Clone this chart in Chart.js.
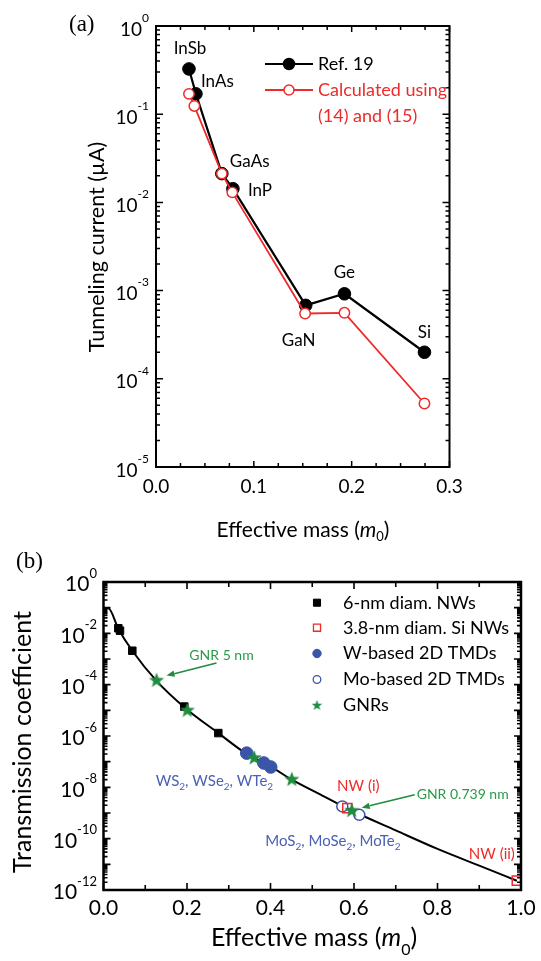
<!DOCTYPE html>
<html><head><meta charset="utf-8">
<script src="https://cdn.jsdelivr.net/npm/chart.js@4.4.0/dist/chart.umd.min.js"></script>
<style>
html,body{margin:0;padding:0;background:#fff;}
#wrap{position:relative;width:541px;height:961px;overflow:hidden;background:#fff;}
canvas{position:absolute;left:0;}
#ca{top:0;}
#cb{top:545px;}
</style></head><body>
<div id="wrap"><canvas id="ca" width="541" height="545"></canvas><canvas id="cb" width="541" height="416"></canvas></div>
<script>
// ---------- Panel (a) data ----------
const materialsA = ['InSb','InAs','GaAs','InP','GaN','Ge','Si'];
const massRefA = [0.0337,0.0408,0.0673,0.0786,0.153,0.1926,0.2744];
const currentRefA = [0.326,0.17,0.0212,0.0143,6.8e-4,9.2e-4,2.0e-4];
const massCalcA = [0.0337,0.0392,0.0673,0.078,0.1524,0.1926,0.2744];
const currentCalcA = [0.17,0.124,0.0212,0.013,5.5e-4,5.6e-4,5.25e-5];
const xTicksA = [0,0.1,0.2,0.3];
const yDecadesA = [0,-1,-2,-3,-4,-5];

// ---------- Panel (b) data ----------
const curveMassB = [0.006,0.0115,0.036,0.069,0.127,0.194,0.275,0.343,0.40,0.451,0.52,0.594,0.70,0.80,0.90,0.99];
const curveTransB = [0.094,0.094,0.0145,2.1e-3,1.4e-4,1.3e-5,1.3e-6,2.0e-7,6.5e-8,2.0e-8,5.2e-9,1.25e-9,2.1e-10,4.0e-11,8.9e-12,2.3e-12];
const nw6MassB = [0.0355,0.0395,0.069,0.1935,0.275];
const nw6TransB = [0.0158,0.0127,2.1e-3,1.4e-5,1.3e-6];
const nwSiMassB = [0.584,0.990];
const nwSiTransB = [1.56e-9,2.3e-12];
const wTmdMassB = [0.343,0.384,0.4005];
const wTmdTransB = [2.15e-7,8.9e-8,6.2e-8];
const moTmdMassB = [0.572,0.6127];
const moTmdTransB = [1.8e-9,8.5e-10];
const gnrMassB = [0.127,0.2007,0.361,0.451,0.5945];
const gnrTransB = [1.44e-4,9.8e-6,1.38e-7,2.0e-8,1.23e-9];
const xTicksB = [0,0.2,0.4,0.6,0.8,1.0];
const yDecadesB = [0,-2,-4,-6,-8,-10,-12];

const RED = '#ee2a2a', BLUE = '#3a55a8', GREEN = '#1f8c3f', BLUET = '#4a60b3', GREENT = '#2a9a48';
const FAM = 'Lato, "Open Sans", sans-serif';
const F = (s, st) => (st || '') + ' ' + s + 'px ' + FAM;

function pts(xs, ys) { return xs.map((v, i) => ({ x: v, y: ys[i] })); }

function mixed(ctx, parts, x, y, align, color) {
  let w = 0;
  parts.forEach(p => { ctx.font = p[1]; p.w = ctx.measureText(p[0]).width; w += p.w; });
  let cx = align === 'center' ? x - w / 2 : align === 'right' ? x - w : x;
  ctx.textBaseline = 'middle'; ctx.textAlign = 'left';
  if (color) ctx.fillStyle = color;
  parts.forEach(p => { ctx.font = p[1]; ctx.fillText(p[0], cx, y + (p[2] || 0)); cx += p.w; });
}

function starCanvas(r, color) {
  const s = Math.ceil(r * 2 + 2);
  const c = document.createElement('canvas'); c.width = s; c.height = s;
  const g = c.getContext('2d'); g.fillStyle = color; g.beginPath();
  for (let i = 0; i < 10; i++) {
    const a = -Math.PI / 2 + i * Math.PI / 5, rr = i % 2 ? r * 0.42 : r;
    g.lineTo(s / 2 + rr * Math.cos(a), s / 2 + rr * Math.sin(a));
  }
  g.closePath(); g.fill();
  return c;
}

function frame(chart, o) {
  const { ctx, chartArea: a, scales: { x, y } } = chart;
  ctx.save();
  ctx.strokeStyle = '#000'; ctx.lineWidth = o.lw; ctx.lineCap = 'butt';
  ctx.strokeRect(a.left, a.top, a.right - a.left, a.bottom - a.top);
  ctx.lineWidth = o.tw;
  ctx.beginPath();
  for (let v = x.min; v <= x.max + 1e-9; v += o.xStep) {
    const px = x.getPixelForValue(v);
    const major = Math.abs(v / o.xMajor - Math.round(v / o.xMajor)) < 1e-6;
    const L = major ? o.xMajLen : o.xMinLen;
    ctx.moveTo(px, a.bottom); ctx.lineTo(px, a.bottom - L);
    ctx.moveTo(px, a.top); ctx.lineTo(px, a.top + L);
  }
  const e0 = Math.round(Math.log10(y.min)), e1 = Math.round(Math.log10(y.max));
  for (let e = e0; e <= e1; e++) {
    for (let m = 1; m <= 9; m++) {
      if (e === e1 && m > 1) break;
      const py = y.getPixelForValue(m * Math.pow(10, e));
      const L = m === 1 ? o.yMajLen : o.yMinLen;
      ctx.moveTo(a.left, py); ctx.lineTo(a.left + L, py);
      ctx.moveTo(a.right, py); ctx.lineTo(a.right - L, py);
    }
  }
  ctx.stroke();
  ctx.restore();
}

function arrow(ctx, x1, y1, x2, y2, color) {
  ctx.save(); ctx.strokeStyle = color; ctx.fillStyle = color; ctx.lineWidth = 1.5;
  const ang = Math.atan2(y2 - y1, x2 - x1), h = 8, hw = 3.2;
  const bx = x2 - h * Math.cos(ang), by = y2 - h * Math.sin(ang);
  ctx.beginPath(); ctx.moveTo(x1, y1); ctx.lineTo(bx, by); ctx.stroke();
  ctx.beginPath(); ctx.moveTo(x2, y2);
  ctx.lineTo(bx + hw * Math.sin(ang), by - hw * Math.cos(ang));
  ctx.lineTo(bx - hw * Math.sin(ang), by + hw * Math.cos(ang));
  ctx.closePath(); ctx.fill(); ctx.restore();
}

// ---------- Panel (a) ----------
const panelA = {
  id: 'panelA',
  afterDraw(chart) {
    const { ctx, chartArea: a, scales: { x, y } } = chart;
    frame(chart, { lw: 2, tw: 1.5, xStep: 0.025, xMajor: 0.1, xMajLen: 6, xMinLen: 4, yMajLen: 7, yMinLen: 4 });
    ctx.save();
    ctx.fillStyle = '#000';
    yDecadesA.forEach(e => {
      const py = y.getPixelForValue(Math.pow(10, e));
      mixed(ctx, [['10', F(19)], [String(e), F(12), -11.5]], 149, py + 3.5, 'right');
    });
    ctx.textAlign = 'center'; ctx.textBaseline = 'middle'; ctx.font = F(19);
    xTicksA.forEach(v => ctx.fillText(v.toFixed(1), x.getPixelForValue(v), a.bottom + 20));
    // axis titles
    mixed(ctx, [['Effective mass (', F(21)], ['m', F(21, 'italic')], ['0', F(13), 7], [')', F(21)]], 303, 530, 'center');
    ctx.save(); ctx.translate(97, 247); ctx.rotate(-Math.PI / 2);
    ctx.textAlign = 'center'; ctx.textBaseline = 'middle'; ctx.font = F(21.5);
    ctx.fillText('Tunneling current (\u00B5A)', 0, 0); ctx.restore();
    // panel label
    ctx.font = '23px "Liberation Serif", "DejaVu Serif", serif'; ctx.textAlign = 'left'; ctx.textBaseline = 'middle';
    ctx.fillText('(a)', 69, 25);
    // material labels anchored on Ref. 19 points
    const off = { InSb: [1, -20, 'center'], InAs: [5, -12, 'left'], GaAs: [8, -12, 'left'], InP: [15, 2, 'left'], GaN: [-7, 35, 'center'], Ge: [0, -21, 'center'], Si: [0, -20, 'center'] };
    ctx.font = F(17); ctx.textBaseline = 'middle';
    materialsA.forEach((m, i) => {
      const px = x.getPixelForValue(massRefA[i]), py = y.getPixelForValue(currentRefA[i]);
      const o = off[m]; ctx.textAlign = o[2]; ctx.fillText(m, px + o[0], py + o[1]);
    });
    // legend
    const lg = [['#000', '#000', 'Ref. 19', 64], [RED, '#fff', 'Calculated using', 90]];
    lg.forEach(l => {
      ctx.strokeStyle = l[0]; ctx.lineWidth = 2;
      ctx.beginPath(); ctx.moveTo(265, l[3]); ctx.lineTo(313, l[3]); ctx.stroke();
      ctx.beginPath(); ctx.arc(289, l[3], l[1] === '#fff' ? 5 : 5.5, 0, 2 * Math.PI);
      ctx.fillStyle = l[1]; ctx.fill(); ctx.lineWidth = 1.5; ctx.stroke();
      ctx.fillStyle = l[0]; ctx.font = F(18); ctx.textAlign = 'left'; ctx.fillText(l[2], 318, l[3]);
    });
    ctx.fillStyle = RED; ctx.fillText('(14) and (15)', 318, 116.5);
    ctx.restore();
  }
};

new Chart(document.getElementById('ca').getContext('2d'), {
  type: 'scatter',
  data: {
    datasets: [
      { label: 'Calculated using (14) and (15)', data: pts(massCalcA, currentCalcA), showLine: true, borderColor: RED, borderWidth: 1.8,
        pointRadius: 5.2, pointBorderWidth: 1.5, pointBackgroundColor: '#fff', pointBorderColor: RED, order: 1 },
      { label: 'Ref. 19', data: pts(massRefA, currentRefA), showLine: true, borderColor: '#000', borderWidth: 2.2,
        pointRadius: 6.3, pointBorderWidth: 1, pointBackgroundColor: '#000', pointBorderColor: '#000', order: 2 }
    ]
  },
  options: {
    responsive: false, animation: false, devicePixelRatio: 1,
    layout: { padding: { left: 156, top: 26, right: 91.5, bottom: 78 } },
    scales: { x: { type: 'linear', min: 0, max: 0.3, display: false }, y: { type: 'logarithmic', min: 1e-5, max: 1, display: false } },
    plugins: { legend: { display: false }, tooltip: { enabled: false } }
  },
  plugins: [panelA]
});

// ---------- Panel (b) ----------
const starBig = starCanvas(8, GREEN), starLeg = starCanvas(5.5, GREEN);
const panelB = {
  id: 'panelB',
  afterDraw(chart) {
    const { ctx, chartArea: a, scales: { x, y } } = chart;
    frame(chart, { lw: 2.5, tw: 1.6, xStep: 0.1, xMajor: 0.2, xMajLen: 7, xMinLen: 5, yMajLen: 7, yMinLen: 4 });
    ctx.save();
    ctx.fillStyle = '#000';
    yDecadesB.forEach(e => {
      const py = y.getPixelForValue(Math.pow(10, e));
      mixed(ctx, [['10', F(21)], [String(e), F(13), -11]], 97, py + 2.5, 'right');
    });
    ctx.textAlign = 'center'; ctx.textBaseline = 'middle'; ctx.font = F(21);
    xTicksB.forEach(v => ctx.fillText(v.toFixed(1), x.getPixelForValue(v), a.bottom + 18));
    mixed(ctx, [['Effective mass (', F(25)], ['m', F(25, 'italic')], ['0', F(16), 12], [')', F(25)]], 314, 393, 'center');
    ctx.save(); ctx.translate(23, 197); ctx.rotate(-Math.PI / 2);
    ctx.textAlign = 'center'; ctx.textBaseline = 'middle'; ctx.font = F(25);
    ctx.fillText('Transmission coefficient', 0, 0); ctx.restore();
    ctx.font = '23px "Liberation Serif", "DejaVu Serif", serif'; ctx.textAlign = 'left'; ctx.textBaseline = 'middle';
    ctx.fillText('(b)', 16, 17);
    // legend
    const H = Chart.helpers;
    const leg = [
      ['6-nm diam. NWs', { pointStyle: 'rect', radius: 5, borderWidth: 1 }, '#000', '#000'],
      ['3.8-nm diam. Si NWs', { pointStyle: 'rect', radius: 5, borderWidth: 1.3 }, '#fff', RED],
      ['W-based 2D TMDs', { pointStyle: 'circle', radius: 4.2, borderWidth: 1 }, BLUE, BLUE],
      ['Mo-based 2D TMDs', { pointStyle: 'circle', radius: 3.8, borderWidth: 1.3 }, '#fff', BLUE],
      ['GNRs', { pointStyle: starLeg, radius: 5, borderWidth: 0 }, GREEN, GREEN]
    ];
    const ly = [57.7, 82.7, 108.5, 134.5, 160.5];
    leg.forEach((l, i) => {
      ctx.fillStyle = l[2]; ctx.strokeStyle = l[3]; ctx.lineWidth = l[1].borderWidth;
      H.drawPoint(ctx, { pointStyle: l[1].pointStyle, rotation: 0, radius: l[1].radius, borderWidth: l[1].borderWidth }, 317, ly[i]);
      ctx.fillStyle = '#000'; ctx.font = F(18); ctx.textAlign = 'left'; ctx.textBaseline = 'middle';
      ctx.fillText(l[0], 343, ly[i]);
    });
    // annotations anchored on data points
    const P = (xs, ys, i) => [x.getPixelForValue(xs[i]), y.getPixelForValue(ys[i])];
    const g0 = P(gnrMassB, gnrTransB, 0);
    ctx.fillStyle = GREENT; ctx.font = F(14); ctx.textAlign = 'center';
    ctx.fillText('GNR 5 nm', g0[0] + 65, g0[1] - 25);
    arrow(ctx, g0[0] + 60, g0[1] - 17.5, g0[0] + 10, g0[1] - 5, GREEN);
    const g4 = P(gnrMassB, gnrTransB, 4);
    ctx.textAlign = 'left'; ctx.fillStyle = GREENT; ctx.font = F(14);
    ctx.fillText('GNR 0.739 nm', g4[0] + 65, g4[1] - 16);
    arrow(ctx, g4[0] + 63, g4[1] - 16, g4[0] + 10, g4[1] - 3, GREEN);
    const n0 = P(nwSiMassB, nwSiTransB, 0), n1 = P(nwSiMassB, nwSiTransB, 1);
    ctx.fillStyle = RED; ctx.font = F(15); ctx.textAlign = 'center';
    ctx.fillText('NW (i)', n0[0] + 11, n0[1] - 22);
    ctx.fillText('NW (ii)', n1[0] - 25, n1[1] - 27);
    const w0 = P(wTmdMassB, wTmdTransB, 0);
    mixed(ctx, [['WS', F(15)], ['2', F(10), 5], [', WSe', F(15)], ['2', F(10), 5], [', WTe', F(15)], ['2', F(10), 5]], w0[0] - 91, w0[1] + 28.5, 'left', BLUET);
    const m0 = P(moTmdMassB, moTmdTransB, 0);
    mixed(ctx, [['MoS', F(15)], ['2', F(10), 5], [', MoSe', F(15)], ['2', F(10), 5], [', MoTe', F(15)], ['2', F(10), 5]], m0[0] - 77, m0[1] + 35, 'left', BLUET);
    ctx.restore();
  }
};

new Chart(document.getElementById('cb').getContext('2d'), {
  type: 'scatter',
  data: {
    datasets: [
      { label: 'GNRs', data: pts(gnrMassB, gnrTransB), pointStyle: starBig, pointRadius: 8, order: 1 },
      { label: '6-nm diam. NWs', data: pts(nw6MassB, nw6TransB), pointStyle: 'rect', pointRadius: 5.3, pointBackgroundColor: '#000', pointBorderColor: '#000', pointBorderWidth: 1, order: 2 },
      { label: 'W-based 2D TMDs', data: pts(wTmdMassB, wTmdTransB), pointStyle: 'circle', pointRadius: 6.3, pointBackgroundColor: BLUE, pointBorderColor: BLUE, pointBorderWidth: 1, order: 3 },
      { label: '3.8-nm diam. Si NWs', data: pts(nwSiMassB, nwSiTransB), pointStyle: 'rect', pointRadius: 6.5, pointBackgroundColor: 'rgba(255,255,255,0)', pointBorderColor: RED, pointBorderWidth: 1.5, order: 4 },
      { label: 'Mo-based 2D TMDs', data: pts(moTmdMassB, moTmdTransB), pointStyle: 'circle', pointRadius: 5.5, pointBackgroundColor: '#fff', pointBorderColor: BLUE, pointBorderWidth: 1.5, order: 5 },
      { label: 'model', data: pts(curveMassB, curveTransB), showLine: true, pointRadius: 0, borderColor: '#000', borderWidth: 2, cubicInterpolationMode: 'monotone', order: 10 }
    ]
  },
  options: {
    responsive: false, animation: false, devicePixelRatio: 1,
    layout: { padding: { left: 103.5, top: 37, right: 20, bottom: 71 } },
    scales: { x: { type: 'linear', min: 0, max: 1, display: false }, y: { type: 'logarithmic', min: 1e-12, max: 1, display: false } },
    plugins: { legend: { display: false }, tooltip: { enabled: false } }
  },
  plugins: [panelB]
});
</script>
</body></html>
